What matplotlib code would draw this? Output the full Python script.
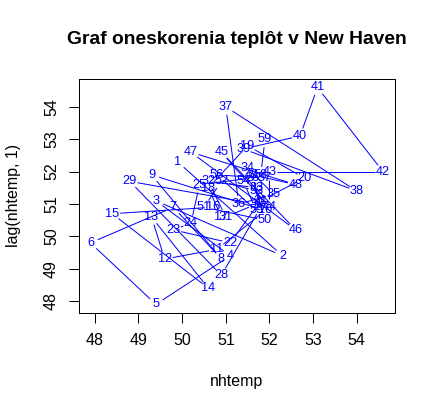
import matplotlib
matplotlib.use("Agg")
import matplotlib.pyplot as plt
import numpy as np

# New Haven annual mean temperature (nhtemp), 1912-1971
nhtemp = [49.9, 52.3, 49.4, 51.1, 49.4, 47.9, 49.8, 50.9, 49.3, 51.9, 50.8, 49.6, 49.3, 50.6, 48.4,
          50.7, 50.9, 50.6, 51.5, 52.8, 51.8, 51.1, 49.8, 50.2, 50.4, 51.6, 51.8, 50.9, 48.8, 51.7,
          51.0, 50.6, 51.7, 51.5, 52.1, 51.3, 51.0, 54.0, 51.4, 52.7, 53.1, 54.6, 52.0, 52.0, 50.9,
          52.6, 50.2, 52.6, 51.6, 51.9, 50.5, 50.9, 51.7, 51.4, 51.7, 50.8, 51.9, 51.8, 51.9, 53.0]
xticks = [48, 49, 50, 51, 52, 53, 54]
yticks = [48, 49, 50, 51, 52, 53, 54]
title = "Graf oneskorenia teplôt v New Haven"
xlabel = "nhtemp"
ylabel = "lag(nhtemp, 1)"

xs = np.array(nhtemp[:-1])
ys = np.array(nhtemp[1:])
labels = [str(i) for i in range(1, len(xs) + 1)]

plt.rcParams['font.family'] = ['Liberation Sans', 'DejaVu Sans']

W, H, DPI = 435, 411, 96
LINE = 19.2
fig = plt.figure(figsize=(W / DPI, H / DPI), dpi=DPI)
Lm, Bm, Tm, Rm = 4.1 * LINE, 5.1 * LINE, 4.1 * LINE, 2.1 * LINE
ax = fig.add_axes([Lm / W, Bm / H, (W - Lm - Rm) / W, (H - Bm - Tm) / H])

def ext(v):
    lo, hi = min(v), max(v)
    r = hi - lo
    return lo - 0.04 * r, hi + 0.04 * r

ax.set_xlim(*ext(xs))
ax.set_ylim(*ext(ys))

# lines with gaps (R type = "c")
gap = 8.0  # pixels
pts = ax.transData.transform(np.column_stack([xs, ys]))
inv = ax.transData.inverted()
for i in range(len(pts) - 1):
    p0, p1 = pts[i], pts[i + 1]
    d = np.hypot(*(p1 - p0))
    if d > 0 and gap / d < 0.5:
        f = gap / d
        a = p0 + f * (p1 - p0)
        b = p1 - f * (p1 - p0)
        seg = inv.transform(np.array([a, b]))
        ax.plot(seg[:, 0], seg[:, 1], color='blue', lw=0.75, solid_capstyle='butt')

for xv, yv, lab in zip(xs, ys, labels):
    ax.text(xv, yv, lab, color='blue', fontsize=9.6, ha='center', va='center')

ax.set_xticks(xticks)
ax.set_yticks(yticks)
ax.set_xticklabels([str(t) for t in xticks])
ax.set_yticklabels([str(t) for t in yticks], rotation=90, va='center')
ax.tick_params(direction='out', length=7.2, width=0.75, labelsize=12, pad=7.5, colors='black')
for s in ax.spines.values():
    s.set_linewidth(0.75)

fig.text((Lm + (W - Rm)) / 2 / W, 1 - 40 / H, title, ha='center', va='center',
         fontsize=14.4, fontweight='bold')
fig.text((Lm + (W - Rm)) / 2 / W, 1 - 381.7 / H, xlabel, ha='center', va='center', fontsize=12)
fig.text(13.3 / W, (Bm + (H - Tm)) / 2 / H, ylabel, ha='center', va='center', rotation=90, fontsize=12)

fig.savefig('out.png', dpi=DPI)
